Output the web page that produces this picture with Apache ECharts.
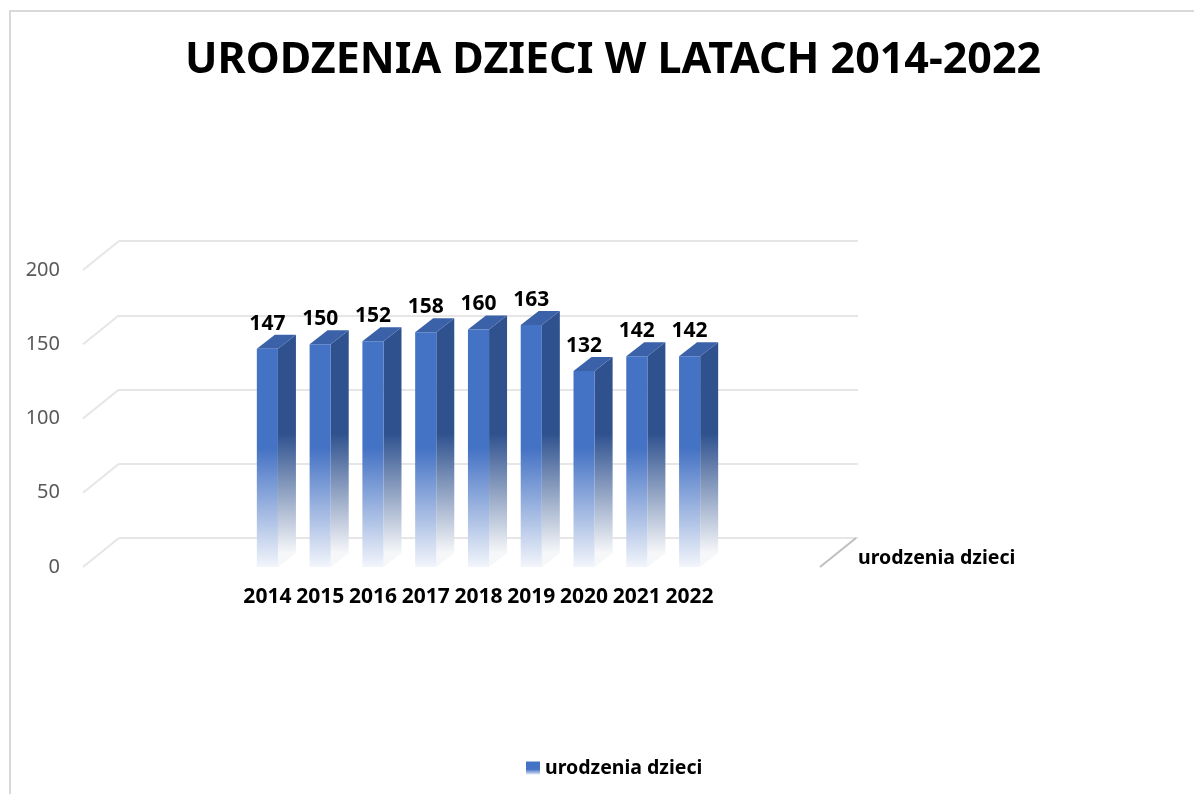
<!DOCTYPE html>
<html>
<head>
<meta charset="utf-8">
<script src="https://cdn.jsdelivr.net/npm/echarts@6/dist/echarts.min.js"></script>
<style>
    html, body { margin: 0; padding: 0; background: #fff; }
    #chart { width: 1194px; height: 794px; }
</style>
</head>
<body>
<div id="chart"></div>
<script>
const years = ["2014", "2015", "2016", "2017", "2018", "2019", "2020", "2021", "2022"]
const births = [147, 150, 152, 158, 160, 163, 132, 142, 142]
const yTicks = [0, 50, 100, 150, 200]
const seriesName = "urodzenia dzieci"
const titleText = "URODZENIA DZIECI W LATACH 2014-2022"

const FONT = "Noto Sans"
// 3d look: full depth of the walls, bars sit at half of it
const DEPTH = [36, -29]
const BAR_DEPTH = [18, -14]

function gradient(y, y2, from, to) {
    return {
        type: "linear", x: 0, y: y, x2: 0, y2: y2, global: true,
        colorStops: [{ offset: 0, color: from }, { offset: 1, color: to }]
    }
}

function renderBar(params, api) {
    const i = api.value(0)
    const v = api.value(1)
    const top = api.coord([i, v])
    const base = api.coord([i, 0])
    const fade = api.coord([i, 80])[1]
    const w = api.size([1, 0])[0] * 0.4
    const x0 = top[0] - w / 2
    const x1 = top[0] + w / 2
    const [dx, dy] = BAR_DEPTH
    return {
        type: "group",
        children: [
            {
                type: "polygon",
                shape: { points: [[x1, top[1]], [x1 + dx, top[1] + dy], [x1 + dx, base[1] + dy], [x1, base[1]]] },
                style: { fill: gradient(fade + dy, base[1] + dy, "#2f528f", "#f6f7f9") }
            },
            {
                type: "polygon",
                shape: { points: [[x0, top[1]], [x0 + dx, top[1] + dy], [x1 + dx, top[1] + dy], [x1, top[1]]] },
                style: { fill: "#3b61a8" }
            },
            {
                type: "rect",
                shape: { x: x0, y: top[1], width: w, height: base[1] - top[1] },
                style: { fill: gradient(fade, base[1], "#4472c4", "#f2f5fb") }
            },
            {
                type: "text",
                x: top[0], y: top[1] - 25,
                style: {
                    text: String(v), fontFamily: FONT, fontSize: 21, fontWeight: "bold",
                    fill: "#000", align: "center", verticalAlign: "middle"
                }
            }
        ]
    }
}

function renderDiagonal(params, api) {
    const p = api.coord([api.value(0), api.value(1)])
    const edge = api.value(0) > 0
    return {
        type: "line",
        shape: { x1: p[0], y1: p[1], x2: p[0] + DEPTH[0], y2: p[1] + DEPTH[1] },
        style: { stroke: edge ? "#bfbfbf" : "#e6e6e6", lineWidth: 2 }
    }
}

const diagonals = yTicks.map(v => [0, v]).concat([[1, 0]])

const chart = echarts.init(document.getElementById("chart"))
chart.setOption({
    animation: false,
    backgroundColor: "#fff",
    title: {
        text: titleText,
        left: 180,
        top: 34,
        textStyle: { fontFamily: FONT, fontSize: 43, fontWeight: "bold", color: "#000" }
    },
    legend: {
        data: [seriesName],
        left: 521,
        top: 753,
        icon: "rect",
        itemWidth: 14,
        itemHeight: 13,
        textStyle: { fontFamily: FONT, fontSize: 19.5, fontWeight: "bold", color: "#000" }
    },
    grid: [
        { left: 241, right: 478, top: 270, bottom: 227 },
        { left: 83, right: 374, top: 270, bottom: 227 },
        { left: 119, right: 336, top: 241, bottom: 256 }
    ],
    xAxis: [
        {
            gridIndex: 0, type: "category", data: years,
            axisLine: { show: false }, axisTick: { show: false },
            axisLabel: {
                interval: 0, margin: 20, fontFamily: FONT, fontSize: 21,
                fontWeight: "bold", color: "#000"
            }
        },
        { gridIndex: 1, type: "value", min: 0, max: 1, show: false },
        { gridIndex: 2, type: "value", min: 0, max: 1, show: false }
    ],
    yAxis: [
        { gridIndex: 0, type: "value", min: 0, max: 200, interval: 50, show: false },
        {
            gridIndex: 1, type: "value", min: 0, max: 200, interval: 50,
            axisLine: { show: false }, axisTick: { show: false }, splitLine: { show: false },
            axisLabel: { margin: 23, fontFamily: FONT, fontSize: 20, color: "#595959", padding: [4, 0, 0, 0] }
        },
        {
            gridIndex: 2, type: "value", min: 0, max: 200, interval: 50,
            axisLine: { show: false }, axisTick: { show: false }, axisLabel: { show: false },
            splitLine: { lineStyle: { color: "#e6e6e6", width: 2 } }
        }
    ],
    series: [
        {
            name: "diagonals", type: "custom", xAxisIndex: 1, yAxisIndex: 1,
            renderItem: renderDiagonal, data: diagonals, silent: true, z: 1
        },
        {
            name: seriesName, type: "custom", xAxisIndex: 0, yAxisIndex: 0,
            renderItem: renderBar,
            itemStyle: {
                color: {
                    type: "linear", x: 0, y: 0, x2: 0, y2: 1,
                    colorStops: [
                        { offset: 0, color: "#4472c4" },
                        { offset: 0.6, color: "#4472c4" },
                        { offset: 1, color: "#dfe7f5" }
                    ]
                }
            },
            data: births.map((v, i) => [i, v]),
            z: 3
        }
    ],
    graphic: [
        {
            type: "rect",
            shape: { x: 10, y: 11, width: 1400, height: 1000 },
            style: { fill: null, stroke: "#d9d9d9", lineWidth: 2 },
            silent: true
        },
        {
            type: "text",
            left: 858, top: 548,
            style: { text: seriesName, fontFamily: FONT, fontSize: 19.5, fontWeight: "bold", fill: "#000" }
        }
    ]
})
</script>
</body>
</html>
